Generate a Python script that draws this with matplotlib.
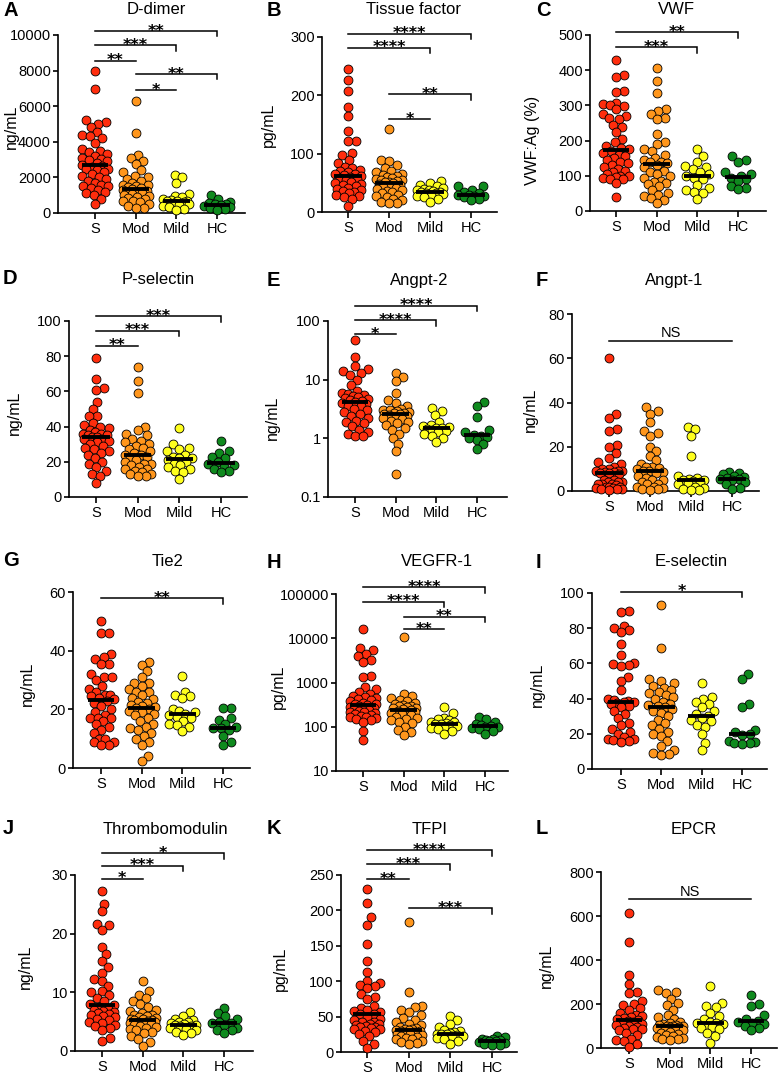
import numpy as np
import matplotlib
matplotlib.use("Agg")
import matplotlib.pyplot as plt
from matplotlib.ticker import FixedLocator, FixedFormatter, NullLocator

plt.rcParams['font.family'] = ['Liberation Sans', 'DejaVu Sans']

categories = ['S', 'Mod', 'Mild', 'HC']
colors = ['#ff2d0d', '#ff961c', '#ffff1e', '#0f8a1e']

# ---------------- data ----------------
ddimer_s = [8000, 6950, 5200, 5100, 5000, 4850, 4550, 4400, 4300, 4200, 3950, 3600, 3500, 3400,
            3300, 3200, 3100, 3050, 3000, 2900, 2800, 2700, 2650, 2600, 2500, 2450, 2400, 2300,
            2200, 2100, 2000, 1900, 1800, 1700, 1600, 1500, 1500, 1400, 1300, 1200, 1100, 1000, 800, 500]
ddimer_mod = [6300, 4500, 3250, 3100, 2900, 2750, 2400, 2300, 2100, 2000, 1900, 1800, 1700, 1600,
              1550, 1500, 1450, 1400, 1350, 1300, 1250, 1200, 1150, 1100, 1050, 1000, 950, 900, 850,
              800, 700, 650, 600, 500, 400, 300, 300]
ddimer_mild = [2150, 2000, 1700, 1050, 950, 900, 800, 750, 700, 700, 650, 600, 550, 500, 450, 400, 350, 250, 150]
ddimer_hc = [1000, 800, 600, 550, 500, 480, 450, 400, 350, 300, 200, 180]

tf_s = [246, 227, 208, 180, 165, 139, 122, 121, 102, 97, 90, 84, 78, 75, 72, 70, 68, 66, 65, 64,
        62, 60, 58, 56, 55, 52, 50, 48, 46, 44, 42, 40, 38, 36, 34, 32, 30, 28, 25, 22, 10]
tf_mod = [142, 90, 87, 80, 75, 70, 68, 65, 63, 61, 60, 58, 56, 55, 55, 53, 52, 51, 50, 48, 47, 45,
          43, 42, 40, 38, 36, 34, 32, 30, 28, 25, 22, 20, 18, 15, 15]
tf_mild = [53, 50, 47, 44, 42, 40, 38, 37, 36, 35, 34, 33, 32, 31, 30, 28, 25, 22, 17]
tf_hc = [45, 44, 38, 35, 32, 30, 29, 28, 27, 25, 22, 20]

vwf_s = [430, 385, 380, 340, 338, 308, 305, 302, 298, 290, 275, 270, 265, 260, 245, 240, 225, 205,
         195, 185, 180, 175, 170, 165, 160, 155, 150, 145, 140, 135, 130, 125, 120, 115, 110, 105,
         100, 100, 98, 95, 92, 90, 80, 40]
vwf_mod = [407, 368, 335, 290, 285, 275, 265, 260, 220, 195, 190, 175, 170, 160, 150, 145, 140, 138,
           135, 130, 125, 115, 110, 105, 100, 95, 85, 82, 80, 78, 70, 60, 50, 45, 42, 38, 30, 22]
vwf_mild = [175, 155, 140, 128, 125, 120, 110, 105, 100, 95, 90, 75, 65, 60, 55, 50, 35]
vwf_hc = [155, 145, 140, 110, 105, 100, 95, 90, 85, 70, 65, 62]

psel_s = [79, 67, 62, 61, 54, 50, 46, 46, 42, 41, 40, 39, 38, 37, 36, 36, 35, 35, 34, 34, 33, 33,
          32, 31, 30, 29, 28, 27, 26, 25, 24, 22, 20, 19, 17, 15, 13, 12, 8]
psel_mod = [74, 66, 59, 40, 38, 36, 35, 33, 32, 31, 30, 29, 28, 27, 26, 25, 24, 24, 23, 22, 21, 20,
            19, 19, 18, 17, 16, 16, 15, 14, 13, 13, 12, 12]
psel_mild = [39, 30, 28, 27, 26, 24, 23, 22, 22, 21, 20, 19, 18, 17, 16, 15, 14, 10]
psel_hc = [32, 26, 25, 23, 22, 20, 19, 18, 17, 16, 15, 14]

angpt2_s = [47, 24, 17, 15, 14, 13, 12, 10, 8, 6.5, 6, 5.8, 5.5, 5.2, 5, 4.8, 4.6, 4.5, 4.3, 4.2, 4,
            3.8, 3.6, 3.5, 3.2, 3, 2.8, 2.6, 2.4, 2.2, 2, 1.9, 1.8, 1.6, 1.4, 1.3, 1.2, 1.1, 1.1]
angpt2_mod = [13, 11, 9.5, 6, 4.5, 4, 3.5, 3.2, 3.1, 3, 2.9, 2.8, 2.7, 2.7, 2.6, 2.6, 2.5, 2.4, 2.3,
              2.2, 2.1, 2, 1.9, 1.8, 1.7, 1.5, 1.4, 1.2, 1, 0.8, 0.6, 0.25]
angpt2_mild = [3.3, 2.9, 2.5, 1.9, 1.7, 1.6, 1.55, 1.5, 1.5, 1.45, 1.4, 1.35, 1.3, 1.2, 1.1, 1, 0.85]
angpt2_hc = [4.2, 3.5, 2.3, 1.4, 1.3, 1.15, 1.1, 1.05, 1.0, 0.95, 0.8, 0.65]

angpt1_s = [60, 35, 33, 28, 27, 21, 20, 17, 15, 13, 12, 11, 10, 10, 9, 9, 9, 8.5, 8.5, 8, 8, 7.5,
            5, 5, 4, 4, 4, 3, 3, 3, 2.5, 2, 2, 2, 1.5, 1.5, 1, 1, 1, 0.5]
angpt1_mod = [38, 36, 35, 31, 27, 26, 25, 20, 18, 16, 14, 12, 11, 11, 10.5, 10, 9, 9, 8.5, 8, 7, 6,
              5, 5, 4, 3, 3, 2, 2, 1.5, 1, 1, 0.5]
angpt1_mild = [29, 28, 25, 16, 7, 6, 5.5, 5, 5, 4.5, 4, 3.5, 3, 2, 1.5, 1, 0.5, 0.5]
angpt1_hc = [8.5, 8, 7.5, 7, 6.5, 6, 5.5, 5.5, 5, 4, 3, 1.5, 1]

tie2_s = [50, 46, 46, 39, 38, 37, 35.5, 35.5, 32, 31, 31, 30, 28, 27, 26, 25, 25, 24.5, 24, 23.5,
          23, 22, 21, 20, 19, 18, 17, 17, 17, 16, 15, 14, 13, 12, 10, 10, 9, 9, 8, 8]
tie2_mod = [36, 35, 33, 31, 29, 29, 28, 27, 26, 26, 25, 24, 23.5, 22.5, 22, 21.5, 21, 20.8, 20.5,
            20, 19.5, 19, 18.5, 18, 17, 16, 15, 14, 13.5, 13, 12, 11, 10, 9, 8, 4, 2.5]
tie2_mild = [31.5, 26, 25, 24.5, 24, 20, 19.5, 19, 18.5, 18, 17.5, 17, 16, 15, 14.5, 14, 12.5]
tie2_hc = [20.5, 20.5, 17, 16.5, 15, 14, 13.5, 13.5, 13, 11, 9, 8]

vegfr1_s = [16000, 6000, 5500, 4500, 4000, 3200, 2900, 1400, 1300, 800, 700, 600, 550, 500, 480,
            450, 420, 400, 380, 350, 330, 320, 310, 290, 280, 270, 260, 250, 240, 230, 220, 210,
            200, 190, 180, 175, 170, 165, 160, 150, 140, 130, 80, 50]
vegfr1_mod = [10500, 550, 500, 450, 400, 380, 350, 330, 310, 300, 290, 280, 270, 260, 250, 240, 230,
              220, 210, 200, 190, 180, 170, 160, 150, 140, 130, 120, 100, 85, 75, 65]
vegfr1_mild = [280, 200, 160, 150, 140, 130, 125, 120, 118, 115, 110, 105, 100, 95, 90, 80, 70]
vegfr1_hc = [170, 150, 130, 115, 110, 105, 100, 98, 95, 90, 80, 70]

esel_s = [89.5, 89, 81, 80, 79, 78, 71, 65, 60, 59.5, 59, 58.5, 52, 50, 45, 40, 39, 38.5, 38, 38,
          37.5, 37, 36, 35, 33, 31, 29, 26, 25, 23, 21, 20, 18, 17, 17, 16.5, 16, 15.5]
esel_mod = [93, 69, 51, 50, 49, 47, 46, 45, 44, 43, 42, 41, 40, 38, 37, 36.5, 36, 35, 34, 33, 32,
            30, 28, 26, 25, 23, 21, 20, 19, 16, 13, 11, 9, 8.5, 8]
esel_mild = [49, 41, 40, 38, 37, 35, 33, 31, 30, 29, 28, 27, 25, 24, 20, 15, 11]
esel_hc = [54, 51, 37, 35, 22, 21, 20, 19.5, 16, 15.5, 15, 14.5, 14]

tm_s = [27.2, 25.1, 23.8, 21.7, 21.5, 20.7, 17.8, 16.6, 15.4, 14.3, 13.3, 12.2, 11.9, 11, 10.2, 10,
        9.6, 9, 8.5, 8, 7.8, 7.5, 7.2, 7, 6.8, 6.6, 6.5, 6.3, 6.1, 6, 5.8, 5.5, 5.2, 5, 4.8, 4.5,
        4.3, 4, 3.6, 2.2, 1.7]
tm_mod = [11.9, 10.2, 9.6, 9, 8.5, 8, 7.5, 7, 6.8, 6.5, 6.2, 6.1, 6, 5.8, 5.6, 5.5, 5.4, 5.3, 5.2,
          5.1, 5, 4.9, 4.8, 4.7, 4.6, 4.5, 4.3, 4.1, 4, 3.8, 3.5, 3.3, 3, 2.5, 2, 1.6, 0.9]
tm_mild = [6.7, 6, 5.5, 5.2, 5, 4.9, 4.7, 4.6, 4.5, 4.4, 4.3, 4.2, 4, 3.8, 3.6, 3.3, 3, 2.8]
tm_hc = [7.4, 6.5, 5.9, 5.5, 5, 4.8, 4.7, 4.5, 4, 3.6, 3.5, 3.1]

tfpi_s = [230, 210, 190, 180, 152, 128, 113, 100, 98, 95, 93, 90, 82, 78, 75, 65, 62, 60, 58, 56,
          54, 53, 50, 47, 45, 43, 42, 40, 39, 38, 37, 36, 35, 34, 33, 32, 30, 28, 25, 22, 15, 12, 6]
tfpi_mod = [183, 85, 65, 63, 60, 57, 52, 48, 45, 42, 40, 38, 36, 34, 33, 32, 31, 30.5, 30, 29, 28,
            27, 26, 25, 24, 22, 21, 20, 19, 18, 16, 14, 13, 12]
tfpi_mild = [51, 45, 40, 35, 31, 29, 28, 27, 26, 25.5, 25, 24, 23, 22, 20, 18, 15, 11]
tfpi_hc = [23, 21, 19, 18, 17, 16.5, 16, 15, 14, 13, 12, 10, 9.5]

epcr_s = [615, 480, 330, 290, 255, 250, 215, 200, 195, 180, 175, 160, 150, 145, 140, 135, 130, 128,
          125, 120, 115, 110, 105, 100, 95, 90, 88, 85, 80, 70, 60, 40, 35, 30, 20, 5]
epcr_mod = [265, 255, 250, 225, 205, 195, 175, 150, 140, 130, 120, 115, 110, 105, 103, 100, 100, 98,
            96, 94, 92, 90, 88, 85, 80, 75, 70, 65, 60, 55, 50, 45, 42, 40, 38]
epcr_mild = [280, 205, 190, 185, 160, 145, 130, 120, 115, 112, 110, 100, 95, 90, 85, 70, 55, 25]
epcr_hc = [240, 200, 190, 150, 130, 125, 120, 115, 110, 100, 90, 80]

# ---------------- layout (pixels in the 779x1074 canvas) ----------------
W, H = 779, 1074
fig = plt.figure(figsize=(W / 100, H / 100), dpi=100)

panels = [
    dict(letter='A', title='D-dimer', ylabel='ng/mL', groups=[ddimer_s, ddimer_mod, ddimer_mild, ddimer_hc],
         box=(58, 245, 35, 213), cats=(95, 217), ylim=(0, 10000), log=False,
         ticks=[0, 2000, 4000, 6000, 8000, 10000], tlabels=None,
         br=[(0, 3, 10225, '**'), (0, 2, 9421, '***'), (0, 1, 8556, '**'), (1, 3, 7809, '**'), (1, 2, 6910, '*')],
         lpos=(3, 11), tpos=(156, 10), ypos=(11, 127)),
    dict(letter='B', title='Tissue factor', ylabel='pg/mL', groups=[tf_s, tf_mod, tf_mild, tf_hc],
         box=(322, 497, 37, 212), cats=(348, 471), ylim=(0, 300), log=False,
         ticks=[0, 100, 200, 300], tlabels=None,
         br=[(0, 3, 306, '****'), (0, 2, 282, '****'), (1, 3, 202, '**'), (1, 2, 159, '*')],
         lpos=(267, 11), tpos=(413, 10), ypos=(268, 125)),
    dict(letter='C', title='VWF', ylabel='VWF:Ag (%)', groups=[vwf_s, vwf_mod, vwf_mild, vwf_hc],
         box=(590, 766, 35, 211), cats=(616, 738), ylim=(0, 500), log=False,
         ticks=[0, 100, 200, 300, 400, 500], tlabels=None,
         br=[(0, 3, 508, '**'), (0, 2, 465, '***')],
         lpos=(536, 11), tpos=(676, 10), ypos=(533, 140)),
    dict(letter='D', title='P-selectin', ylabel='ng/mL', groups=[psel_s, psel_mod, psel_mild, psel_hc],
         box=(69, 247, 321, 497), cats=(96, 221), ylim=(0, 100), log=False,
         ticks=[0, 20, 40, 60, 80, 100], tlabels=None,
         br=[(0, 3, 102.8, '***'), (0, 2, 94.5, '***'), (0, 1, 86, '**')],
         lpos=(3, 279), tpos=(158, 280), ypos=(14, 413)),
    dict(letter='E', title='Angpt-2', ylabel='ng/mL', groups=[angpt2_s, angpt2_mod, angpt2_mild, angpt2_hc],
         box=(328, 507, 321, 497), cats=(355, 477), ylim=(0.1, 100), log=True,
         ticks=[0.1, 1, 10, 100], tlabels=['0.1', '1', '10', '100'],
         br=[(0, 3, 182, '****'), (0, 2, 104, '****'), (0, 1, 59, '*')],
         lpos=(267, 280), tpos=(419, 280), ypos=(272, 418)),
    dict(letter='F', title='Angpt-1', ylabel='ng/mL', groups=[angpt1_s, angpt1_mod, angpt1_mild, angpt1_hc],
         box=(572, 759, 314, 491), cats=(609, 732), ylim=(0, 80), log=False,
         ticks=[0, 20, 40, 60, 80], tlabels=None,
         br=[(0, 3, 68, 'NS')],
         lpos=(536, 280), tpos=(674, 280), ypos=(530, 410)),
    dict(letter='G', title='Tie2', ylabel='ng/mL', groups=[tie2_s, tie2_mod, tie2_mild, tie2_hc],
         box=(73, 250, 592, 768), cats=(101, 223), ylim=(0, 60), log=False,
         ticks=[0, 20, 40, 60], tlabels=None,
         br=[(0, 3, 57.9, '**')],
         lpos=(3, 560), tpos=(168, 562), ypos=(27, 684)),
    dict(letter='H', title='VEGFR-1', ylabel='pg/mL', groups=[vegfr1_s, vegfr1_mod, vegfr1_mild, vegfr1_hc],
         box=(336, 508, 594, 771), cats=(363, 485), ylim=(10, 100000), log=True,
         ticks=[10, 100, 1000, 10000, 100000], tlabels=['10', '100', '1000', '10000', '100000'],
         br=[(0, 3, 141000, '****'), (0, 2, 67000, '****'), (1, 3, 30700, '**'), (1, 2, 15900, '**')],
         lpos=(267, 562), tpos=(437, 562), ypos=(278, 687)),
    dict(letter='I', title='E-selectin', ylabel='ng/mL', groups=[esel_s, esel_mod, esel_mild, esel_hc],
         box=(592, 767, 593, 769), cats=(621, 742), ylim=(0, 100), log=False,
         ticks=[0, 20, 40, 60, 80, 100], tlabels=None,
         br=[(0, 3, 100.7, '*')],
         lpos=(536, 562), tpos=(691, 562), ypos=(537, 685)),
    dict(letter='J', title='Thrombomodulin', ylabel='ng/mL', groups=[tm_s, tm_mod, tm_mild, tm_hc],
         box=(75, 253, 875, 1051), cats=(102, 224), ylim=(0, 30), log=False,
         ticks=[0, 10, 20, 30], tlabels=None,
         br=[(0, 3, 33.7, '*'), (0, 2, 31.6, '***'), (0, 1, 29.4, '*')],
         lpos=(3, 828), tpos=(165, 829), ypos=(25, 967)),
    dict(letter='K', title='TFPI', ylabel='pg/mL', groups=[tfpi_s, tfpi_mod, tfpi_mild, tfpi_hc],
         box=(341, 517, 875, 1052), cats=(367, 492), ylim=(0, 250), log=False,
         ticks=[0, 50, 100, 150, 200, 250], tlabels=None,
         br=[(0, 3, 285, '****'), (0, 2, 265, '***'), (0, 1, 244, '**'), (1, 3, 203, '***')],
         lpos=(267, 829), tpos=(430, 829), ypos=(280, 969)),
    dict(letter='L', title='EPCR', ylabel='ng/mL', groups=[epcr_s, epcr_mod, epcr_mild, epcr_hc],
         box=(601, 777, 872, 1048), cats=(629, 751), ylim=(0, 800), log=False,
         ticks=[0, 200, 400, 600, 800], tlabels=None,
         br=[(0, 3, 677, 'NS')],
         lpos=(536, 829), tpos=(694, 829), ypos=(546, 966)),
]

DOT = 9.0        # dot diameter in px
HALF = 13.0      # max half-width of the swarm, px


def swarm_offsets(ax, xc, vals):
    """Beeswarm offsets (in px) for one column."""
    pts = ax.transData.transform(np.column_stack([np.full(len(vals), xc), vals]))
    ys = pts[:, 1]
    order = np.argsort(ys)
    cands = [0.0]
    step = 0.5
    k = 1
    while k * step <= HALF:
        cands += [k * step, -k * step]
        k += 1
    placed_x, placed_y = [], []
    offs = np.zeros(len(vals))
    d_ok = DOT * 0.86
    for i in order:
        y = ys[i]
        best, best_score = 0.0, -1
        px = np.array(placed_x)
        py = np.array(placed_y)
        for c in cands:
            if len(px):
                dist = np.sqrt((px - c) ** 2 + (py - y) ** 2).min()
            else:
                dist = 1e9
            if dist >= d_ok:
                best = c
                break
            if dist > best_score + 0.3:
                best_score, best = dist, c
        placed_x.append(best)
        placed_y.append(y)
        offs[i] = best
    return offs


for p in panels:
    L, R, yt, yb = p['box']
    ax = fig.add_axes([L / W, 1 - yb / H, (R - L) / W, (yb - yt) / H])
    c0, c3 = p['cats']
    sp = (c3 - c0) / 3.0
    ax.set_xlim((L - c0) / sp, (R - c0) / sp)
    if p['log']:
        ax.set_yscale('log')
    ax.set_ylim(*p['ylim'])
    ax.yaxis.set_major_locator(FixedLocator(p['ticks']))
    if p['tlabels'] is not None:
        ax.yaxis.set_major_formatter(FixedFormatter(p['tlabels']))
    ax.yaxis.set_minor_locator(NullLocator())
    ax.set_xticks(range(4))
    ax.set_xticklabels(categories)
    for s in ('top', 'right'):
        ax.spines[s].set_visible(False)
    for s in ('left', 'bottom'):
        ax.spines[s].set_linewidth(1.2)
    ax.tick_params(axis='y', direction='out', length=3.6, width=1.2, labelsize=10.5, pad=1.5)
    ax.tick_params(axis='x', direction='out', length=4.0, width=1.2, labelsize=10.5, pad=2.5)
    ax.patch.set_alpha(0)

    for gi, vals in enumerate(p['groups']):
        vals = np.asarray(vals, float)
        offs = swarm_offsets(ax, gi, vals)
        xs = gi + offs / sp
        ax.plot(xs, vals, 'o', ms=6.4, mfc=colors[gi], mec='black', mew=0.6,
                clip_on=False, zorder=3)
        med = np.median(vals)
        ax.plot([gi - 0.33, gi + 0.33], [med, med], color='black', lw=2.8,
                solid_capstyle='butt', zorder=4, clip_on=False)

    inv = ax.transData.inverted()
    for (i, j, h, lab) in p['br']:
        ypx = ax.transData.transform((0, h))[1]
        h2 = inv.transform((0, ypx - 5.5))[1]
        if j - i >= 2 and lab != 'NS':
            xsb, ysb = [i, j, j], [h, h, h2]
        else:
            xsb, ysb = [i, j], [h, h]
        ax.plot(xsb, ysb, color='black', lw=1.1, clip_on=False, zorder=5,
                solid_joinstyle='miter')
        if lab == 'NS':
            ax.annotate(lab, xy=((i + j) / 2, h), xytext=(0, 2.2), textcoords='offset points',
                        ha='center', va='baseline', fontsize=10.5, annotation_clip=False)
        else:
            ax.annotate(lab, xy=((i + j) / 2, h), xytext=(0, -3.4), textcoords='offset points',
                        ha='center', va='baseline', fontsize=11.5, fontweight='bold',
                        family='DejaVu Sans', annotation_clip=False)

    lx, ly = p['lpos']
    fig.text(lx / W, 1 - ly / H, p['letter'], fontsize=14.5, fontweight='bold',
             ha='left', va='center')
    tx, ty = p['tpos']
    fig.text(tx / W, 1 - ty / H, p['title'], fontsize=12, ha='center', va='center')
    yx, yy = p['ypos']
    fig.text(yx / W, 1 - yy / H, p['ylabel'], fontsize=11.5, rotation=90,
             ha='center', va='center')

fig.savefig('out.png', dpi=100)
